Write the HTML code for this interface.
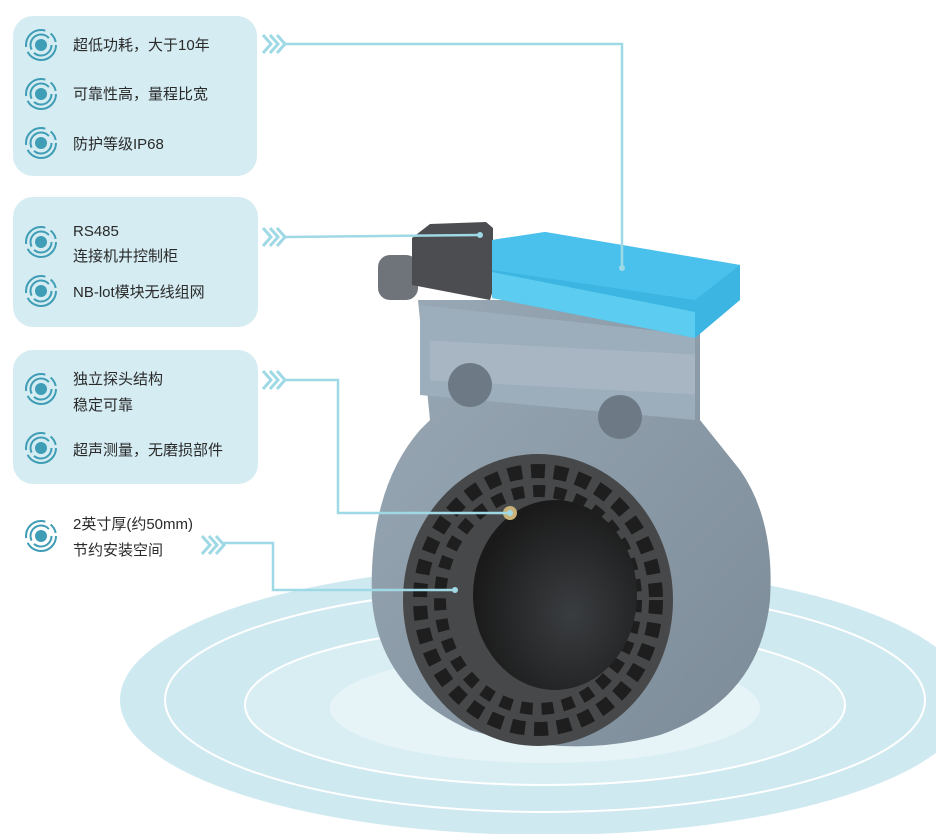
<!DOCTYPE html>
<html><head><meta charset="utf-8"><style>
html,body{margin:0;padding:0;background:#fff;}
svg{display:block}
text{font-family:"Liberation Sans","Noto Sans CJK SC",sans-serif;font-size:15px;fill:#2a2a2a}
</style></head><body>
<svg width="936" height="834" viewBox="0 0 936 834" xmlns="http://www.w3.org/2000/svg">
<defs>
<g id="ic">
<circle r="6" fill="#3f9db5"/>
<circle r="10.5" fill="none" stroke="#3f9db5" stroke-width="2" stroke-dasharray="24 4 30 8"/>
<circle r="15" fill="none" stroke="#3f9db5" stroke-width="2" stroke-dasharray="40 5 30 6 10 4"/>
</g>
<g id="chev" fill="none" stroke="#9fd9e5" stroke-width="3">
<polyline points="0,-9 8,0 0,9"/><polyline points="7,-9 15,0 7,9"/><polyline points="14,-9 22,0 14,9"/>
</g>
<radialGradient id="hole" cx="0.6" cy="0.6" r="0.6"><stop offset="0" stop-color="#3a3d40"/><stop offset="1" stop-color="#1a1a1a"/></radialGradient>
<linearGradient id="body" x1="0" y1="0" x2="1" y2="1"><stop offset="0" stop-color="#9aa9b6"/><stop offset="1" stop-color="#7c8b98"/></linearGradient>
</defs>
<!-- floor ellipses -->
<ellipse cx="545" cy="700" rx="425" ry="135" fill="#cfe9f0"/>
<ellipse cx="545" cy="700" rx="380" ry="112" fill="none" stroke="#fff" stroke-width="2"/>
<ellipse cx="545" cy="705" rx="300" ry="80" fill="#d9eef3" stroke="#fff" stroke-width="2"/>
<ellipse cx="545" cy="708" rx="215" ry="55" fill="#e6f4f7"/>
<!-- panels -->
<rect x="13" y="16" width="244" height="160" rx="20" fill="#d4ecf2"/>
<rect x="13" y="197" width="245" height="130" rx="20" fill="#d4ecf2"/>
<rect x="13" y="350" width="245" height="134" rx="20" fill="#d4ecf2"/>
<use href="#ic" x="41" y="45"/><use href="#ic" x="41" y="94"/><use href="#ic" x="41" y="143"/>
<use href="#ic" x="41" y="242"/><use href="#ic" x="41" y="291"/>
<use href="#ic" x="41" y="389"/><use href="#ic" x="41" y="448"/>
<use href="#ic" x="41" y="536"/>
<text x="73" y="50">超低功耗，大于10年</text>
<text x="73" y="99">可靠性高，量程比宽</text>
<text x="73" y="149">防护等级IP68</text>
<text x="73" y="236">RS485</text>
<text x="73" y="261">连接机井控制柜</text>
<text x="73" y="297">NB-lot模块无线组网</text>
<text x="73" y="384">独立探头结构</text>
<text x="73" y="410">稳定可靠</text>
<text x="73" y="455">超声测量，无磨损部件</text>
<text x="73" y="529">2英寸厚(约50mm)</text>
<text x="73" y="555">节约安装空间</text>
<!-- meter body -->
<path d="M418,300 L700,300 L700,420 L740,470 Q775,520 770,600 Q760,700 660,735 Q570,760 470,730 Q380,690 372,600 Q368,490 420,430 L430,420 Z" fill="url(#body)"/>
<path d="M420,305 L695,335 L695,420 L420,395 Z" fill="#9cadbb"/>
<rect x="430" y="318" width="265" height="40" fill="#a7b6c2" transform="skewY(3)"/>
<ellipse cx="470" cy="385" rx="22" ry="22" fill="#6d7a86"/>
<ellipse cx="620" cy="417" rx="22" ry="22" fill="#6d7a86"/>
<!-- connector -->
<rect x="378" y="255" width="40" height="45" rx="12" fill="#6f747a"/>
<polygon points="412,238 430,224 486,222 493,228 493,290 490,300 412,285" fill="#4b4d50"/>
<!-- blue lid -->
<polygon points="492,240 545,232 740,265 740,300 695,338 492,298" fill="#3cb5e3"/>
<polygon points="492,240 545,232 740,265 695,300 492,270" fill="#49c1ec"/>
<polygon points="492,298 695,338 695,312 492,272" fill="#5ccdf0"/>
<!-- ring -->
<ellipse cx="538" cy="600" rx="135" ry="146" fill="#474849"/>
<ellipse cx="538" cy="600" rx="118" ry="129" fill="none" stroke="#1e1e1e" stroke-width="14" stroke-dasharray="14 9"/>
<ellipse cx="538" cy="600" rx="98" ry="109" fill="none" stroke="#1e1e1e" stroke-width="12" stroke-dasharray="12 9"/>
<ellipse cx="555" cy="595" rx="82" ry="95" fill="url(#hole)"/>
<circle cx="510" cy="513" r="7" fill="#c9b27a"/>
<!-- connectors lines -->
<g fill="none" stroke="#9fd9e5" stroke-width="2.5">
<polyline points="285,44 622,44 622,268"/>
<polyline points="285,237 480,235"/>
<polyline points="285,380 338,380 338,513 510,513"/>
<polyline points="222,543 273,543 273,590 455,590"/>
</g>
<circle cx="622" cy="268" r="3" fill="#9fd9e5"/><circle cx="480" cy="235" r="3" fill="#9fd9e5"/>
<circle cx="510" cy="513" r="3" fill="#9fd9e5"/><circle cx="455" cy="590" r="3" fill="#9fd9e5"/>
<use href="#chev" x="263" y="44"/><use href="#chev" x="263" y="237"/>
<use href="#chev" x="263" y="380"/><use href="#chev" x="202" y="545"/>
</svg>
</body></html>
